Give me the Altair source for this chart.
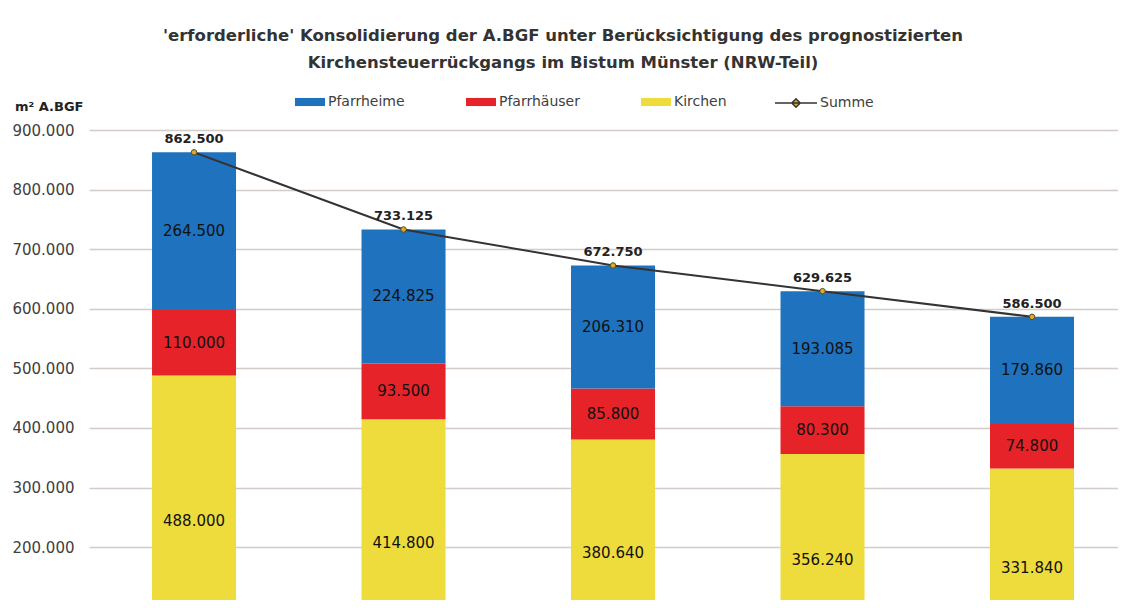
import altair as alt
import pandas as pd

# ---- data ----
kategorien = ["Stufe 1", "Stufe 2", "Stufe 3", "Stufe 4", "Stufe 5"]
pfarrheime = [264500, 224825, 206310, 193085, 179860]
pfarrhaeuser = [110000, 93500, 85800, 80300, 74800]
kirchen = [488000, 414800, 380640, 356240, 331840]
summe = [862500, 733125, 672750, 629625, 586500]

serien = ["Pfarrheime", "Pfarrhäuser", "Kirchen"]
farben = ["#1f72be", "#e62328", "#eedc3c"]
y_ticks = [200000, 300000, 400000, 500000, 600000, 700000, 800000, 900000]

titel = [
    "'erforderliche' Konsolidierung der A.BGF unter Berücksichtigung des prognostizierten",
    "Kirchensteuerrückgangs im Bistum Münster (NRW-Teil)",
]
y_titel = "m² A.BGF"

rows = []
for i, k in enumerate(kategorien):
    for s, vals, order in [("Kirchen", kirchen, 0), ("Pfarrhäuser", pfarrhaeuser, 1), ("Pfarrheime", pfarrheime, 2)]:
        rows.append({"kat": k, "serie": s, "wert": vals[i], "ord": order})
df = pd.DataFrame(rows)
sum_df = pd.DataFrame({"kat": kategorien, "summe": summe, "serie": ["Summe"] * len(kategorien)})

FONT = "DejaVu Sans"
fmt = "replace(format(datum.{f}, ','), ',', '.')"

x = alt.X("kat:N", sort=kategorien, axis=None,
          scale=alt.Scale(paddingInner=0.599, paddingOuter=0.2554, align=0.589))
yscale = alt.Scale(domain=[111400, 900000], nice=False, zero=False)
yaxis = alt.Axis(values=y_ticks, labelExpr=fmt.format(f="value"),
                 grid=True, gridColor="#d3ccc8", gridWidth=1.5,
                 ticks=False, domain=False, labelPadding=15,
                 labelFont=FONT, labelFontSize=15, labelColor="#404040",
                 titleAngle=0, titleAlign="right", titleBaseline="middle",
                 titleX=-6, titleY=-24, titleFont=FONT, titleFontSize=13,
                 titleFontWeight="bold", titleColor="#222222",
                 minExtent=81, maxExtent=81)


def yenc(field):
    return alt.Y(field, scale=yscale, title=y_titel, axis=yaxis)


base = (
    alt.Chart(df)
    .transform_stack(stack="wert", groupby=["kat"], as_=["y0", "y1"],
                     sort=[alt.SortField(field="ord", order="ascending")])
    .transform_calculate(mid="(datum.y0 + datum.y1) / 2", lab=fmt.format(f="wert"))
)

bars = base.mark_bar(clip=True).encode(
    x=x,
    y=yenc("y0:Q"),
    y2="y1:Q",
    color=alt.Color("serie:N", scale=alt.Scale(domain=serien, range=farben),
                    legend=alt.Legend(title=None, orient="none", legendX=206, legendY=-43,
                                      direction="horizontal",
                                      symbolType="M-1,-0.27L1,-0.27L1,0.27L-1,0.27Z",
                                      symbolSize=900, symbolStrokeWidth=0,
                                      labelFont=FONT, labelFontSize=14, labelColor="#404040",
                                      labelOffset=3, columnPadding=61, padding=0)),
)

seglab = base.mark_text(font=FONT, fontSize=15, color="#111111").encode(
    x=x, y=yenc("mid:Q"), text="lab:N")

line = alt.Chart(sum_df).mark_line(strokeWidth=2).encode(
    x=x,
    y=yenc("summe:Q"),
    stroke=alt.Stroke("serie:N", scale=alt.Scale(domain=["Summe"], range=["#333333"]),
                      legend=alt.Legend(title=None, orient="none", legendX=685, legendY=-49,
                                        symbolType="M-1,0L1,0M-0.2,0L0,-0.2L0.2,0L0,0.2Z",
                                        symbolSize=1764, symbolStrokeWidth=1.5,
                                        symbolFillColor="#d9ac2b",
                                        labelFont=FONT, labelFontSize=14, labelColor="#404040",
                                        labelOffset=2, padding=0)),
)

points = alt.Chart(sum_df).mark_point(filled=True, size=30, fill="#d9ac2b", stroke="#5a4a20",
                                      strokeWidth=1, opacity=1).encode(
    x=x, y=yenc("summe:Q"))

sumlab = alt.Chart(sum_df).transform_calculate(lab=fmt.format(f="summe")).mark_text(
    font=FONT, fontSize=13, fontWeight="bold", color="#222222", dy=-13).encode(
    x=x, y=yenc("summe:Q"), text="lab:N")

chart = (
    alt.layer(bars, seglab, line, points, sumlab)
    .properties(
        width=1110, height=592,
        autosize=alt.AutoSizeParams(type="fit", contains="padding"),
        padding={"left": 0, "top": 19, "right": 0, "bottom": 0},
        title=alt.TitleParams(text=titel, font=FONT, fontSize=16.5, fontWeight="bold",
                              color="#333333", anchor="middle", frame="bounds",
                              lineHeight=27, offset=29),
        background="white",
    )
    .configure_view(stroke=None)
)

chart.save("out.html", embed_options={"renderer": "svg", "actions": False})
